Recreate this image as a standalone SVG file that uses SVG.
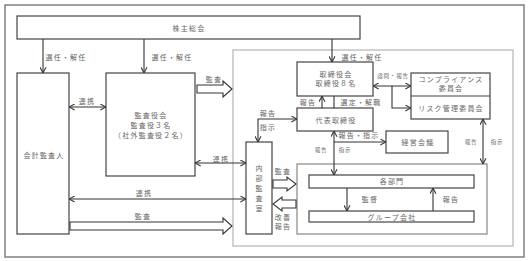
<svg xmlns="http://www.w3.org/2000/svg" width="529" height="261" viewBox="0 0 529 261">
<defs>
<style>
.box{fill:#fff;stroke:#444;stroke-width:1.2}
.t{font-family:"Noto Sans CJK JP","Noto Sans CJK SC",sans-serif;font-size:7px;fill:#666;letter-spacing:1.2px;text-anchor:middle}
.s{font-size:5.5px;letter-spacing:0.8px}
.c{fill:none;stroke:#333;stroke-width:1.1}
.h{fill:#fff;stroke:#333;stroke-width:1.1}
</style>
<marker id="a" viewBox="0 0 8 8" refX="7.5" refY="4" markerWidth="7" markerHeight="7" orient="auto-start-reverse" markerUnits="userSpaceOnUse">
<path d="M1,0.6 L7.5,4 L1,7.4" fill="none" stroke="#333" stroke-width="1.2"/>
</marker>
</defs>
<rect width="529" height="261" fill="#fff"/>
<rect x="5" y="5" width="519" height="252" fill="none" stroke="#777" stroke-width="1.4"/>
<rect x="233" y="50" width="280" height="196" fill="none" stroke="#bbb" stroke-width="1.3"/>
<rect x="297" y="164" width="190" height="70" fill="none" stroke="#888" stroke-width="1.2"/>

<g id="shareholders"><rect class="box" x="17" y="16" width="343" height="23"/><text class="t" x="189" y="30.5">株主総会</text></g>
<g id="auditor"><rect class="box" x="17" y="73" width="52" height="161"/><text class="t" x="44" y="157.5">会計監査人</text></g>
<g id="audit-board"><rect class="box" x="106" y="73" width="89" height="103"/>
<text class="t" x="151" y="117.5">監査役会</text><text class="t" x="151" y="127.5">監査役３名</text><text class="t" x="151" y="137.5">（社外監査役２名）</text></g>
<g id="board"><rect class="box" x="297" y="62" width="76" height="34"/><text class="t" x="336" y="76.5">取締役会</text><text class="t" x="336" y="86">取締役８名</text></g>
<g id="committees"><rect class="box" x="411" y="73" width="79" height="46"/><line x1="411" y1="96" x2="490" y2="96" stroke="#444" stroke-width="1.2"/>
<text class="t" x="451" y="81.5">コンプライアンス</text><text class="t" x="451" y="90.5">委員会</text><text class="t" x="451" y="110.5">リスク管理委員会</text></g>
<g id="ceo"><rect class="box" x="297" y="108" width="76" height="23"/><text class="t" x="336" y="122.5">代表取締役</text></g>
<g id="mgmt"><rect class="box" x="386" y="131" width="62" height="22"/><text class="t" x="418" y="144.5">経営会議</text></g>
<g id="internal-audit"><rect class="box" x="246" y="142" width="26" height="92"/>
<text class="t" x="259.6" y="170.5">内</text><text class="t" x="259.6" y="180.5">部</text><text class="t" x="259.6" y="190.5">監</text><text class="t" x="259.6" y="201">査</text><text class="t" x="259.6" y="210.5">室</text></g>
<g id="divisions"><rect class="box" x="309" y="175" width="165" height="13"/><text class="t" x="392" y="184">各部門</text></g>
<g id="group"><rect class="box" x="309" y="211" width="165" height="11"/><text class="t" x="392" y="219.5">グループ会社</text></g>

<g id="connectors">
<path class="c" d="M43,39 V73" marker-end="url(#a)"/>
<path class="c" d="M144,39 V73" marker-end="url(#a)"/>
<path class="c" d="M332,39 V62" marker-end="url(#a)"/>
<path class="c" d="M69,107 H106" marker-start="url(#a)" marker-end="url(#a)"/>
<path class="c" d="M195,163 H246" marker-start="url(#a)" marker-end="url(#a)"/>
<path class="c" d="M69,199 H246" marker-start="url(#a)" marker-end="url(#a)"/>
<path class="c" d="M322,108 V96" marker-end="url(#a)"/>
<path class="c" d="M334,96 V108"/>
<path class="c" d="M373,86 H411" marker-start="url(#a)" marker-end="url(#a)"/>
<path class="c" d="M392,86 V108 H411" marker-end="url(#a)"/>
<path class="c" d="M297,119 H258 V142" marker-start="url(#a)" marker-end="url(#a)"/>
<path class="c" d="M334,131 V175" marker-start="url(#a)" marker-end="url(#a)"/>
<path class="c" d="M334,142 H386" marker-end="url(#a)"/>
<path class="c" d="M483,119 V164" marker-start="url(#a)" marker-end="url(#a)"/>
<path class="c" d="M347,188 V211" marker-end="url(#a)"/>
<path class="c" d="M433,211 V188" marker-end="url(#a)"/>
<polygon class="h" points="197,85 223,85 223,81 232,89 223,97 223,93 197,93"/>
<polygon class="h" points="70,222 223,222 223,218 232,226 223,234 223,230 70,230"/>
<polygon class="h" points="273,180 287,180 287,177 296,184 287,191 287,188 273,188"/>
<polygon class="h" points="296,200 282,200 282,197 273,204 282,211 282,208 296,208"/>
</g>

<g id="labels">
<text class="t" x="66" y="59.5">選任・解任</text>
<text class="t" x="172" y="59.5">選任・解任</text>
<text class="t" x="362" y="59.5">選任・解任</text>
<text class="t" x="214" y="81.5">監査</text>
<text class="t" x="87" y="103.5">連携</text>
<text class="t" x="221" y="161.5">連携</text>
<text class="t" x="144" y="195.5">連携</text>
<text class="t" x="143" y="218.5">監査</text>
<text class="t s" x="393" y="78">諮問・報告</text>
<text class="t" x="308" y="104.5">報告</text>
<text class="t" x="361" y="104.5">選定・解職</text>
<text class="t" x="268" y="115.5">報告</text>
<text class="t" x="268" y="129.5">指示</text>
<text class="t" x="359" y="137.5">報告・指示</text>
<text class="t s" x="321" y="152">報告</text>
<text class="t s" x="345" y="152">指示</text>
<text class="t s" x="471" y="144">報告</text>
<text class="t s" x="497" y="144">指示</text>
<text class="t" x="283" y="173.5">監査</text>
<text class="t" x="283" y="219.5">改善</text>
<text class="t" x="283" y="229">報告</text>
<text class="t" x="370" y="201.5">監督</text>
<text class="t" x="451" y="201.5">報告</text>
</g>
</svg>
